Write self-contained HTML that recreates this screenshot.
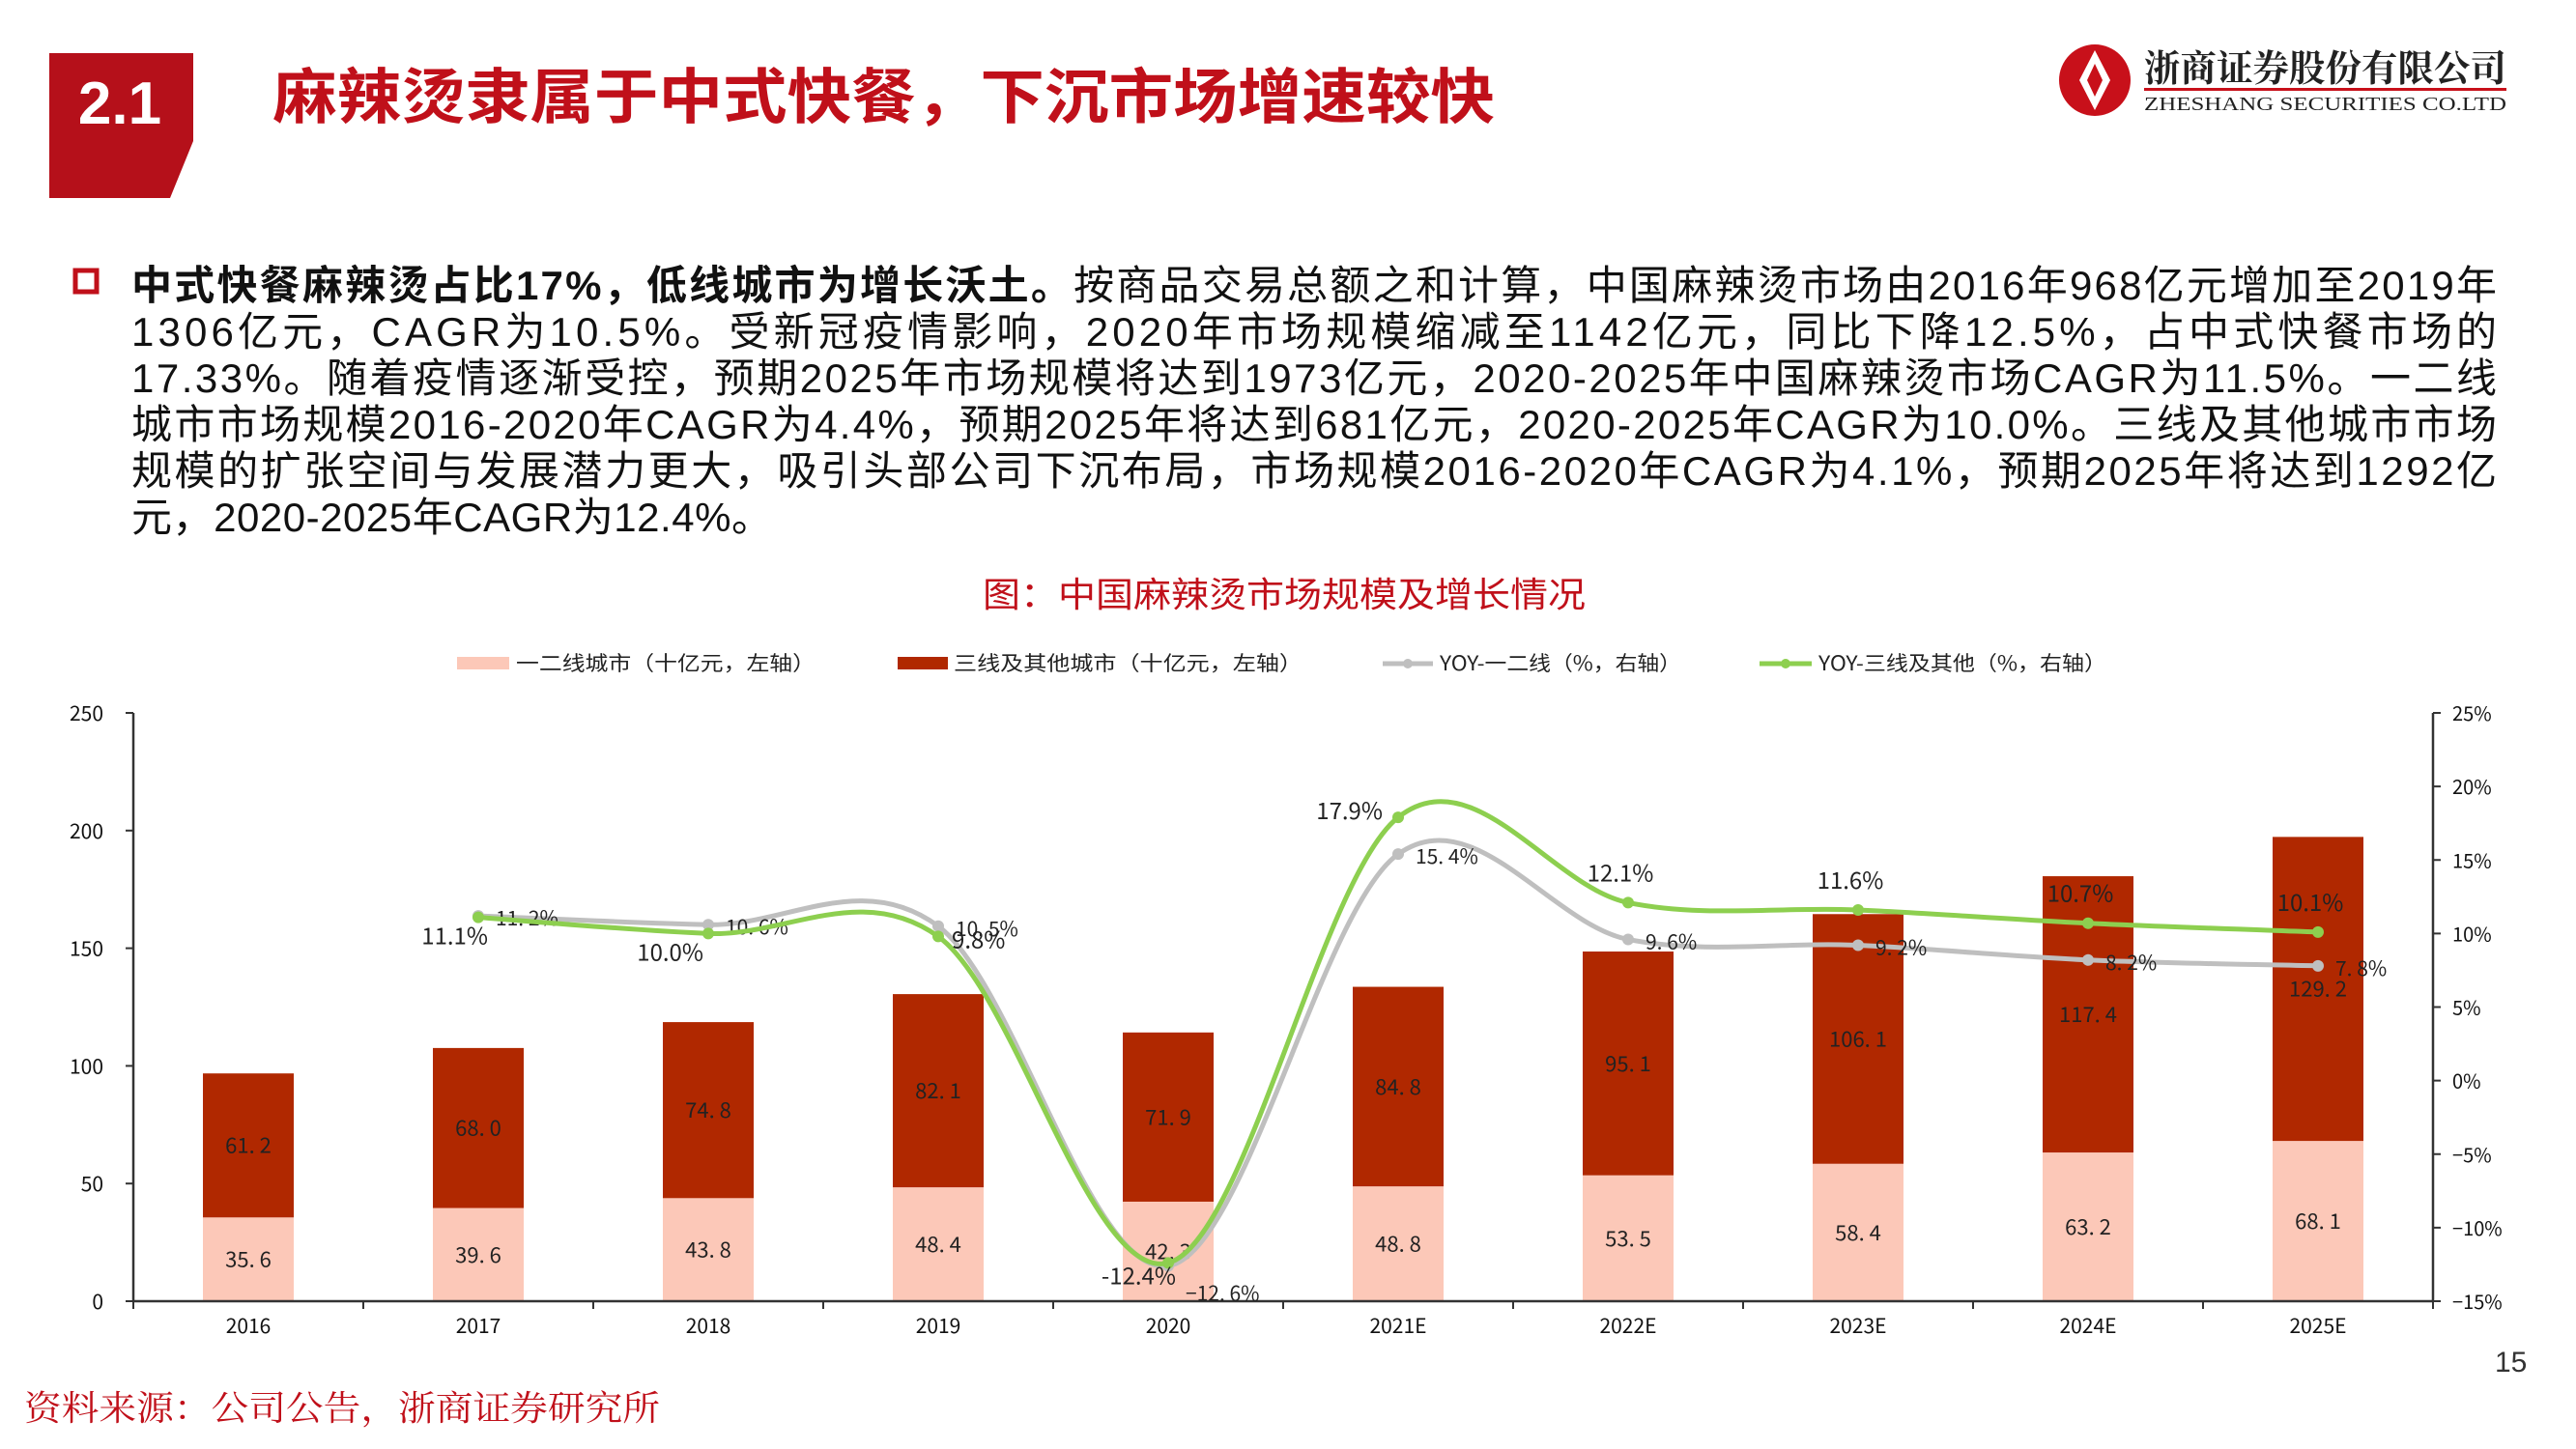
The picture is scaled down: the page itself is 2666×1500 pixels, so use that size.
<!DOCTYPE html>
<html><head><meta charset="utf-8">
<style>
html,body{margin:0;padding:0;background:#fff;}
svg{display:block;}
</style></head>
<body>
<svg id="page" width="2666" height="1500" viewBox="0 0 2666 1500" xmlns="http://www.w3.org/2000/svg">
  <rect width="2666" height="1500" fill="#fff"/>
  <g>
    <polygon points="51,55 200,55 200,146 176,205 51,205" fill="#B5101A"/>
    <text x="124" y="128" text-anchor="middle" font-family="Liberation Sans, sans-serif" font-weight="bold" font-size="62" fill="#fff">2.1</text>
  </g>
  <text x="282" y="122" font-family="Liberation Sans, 'Noto Sans CJK SC', sans-serif" font-weight="bold" font-size="62" fill="#C0101A" textLength="1265" lengthAdjust="spacingAndGlyphs">麻辣烫隶属于中式快餐，下沉市场增速较快</text>
  <g>
    <circle cx="2168" cy="83" r="37" fill="#C8101A"/>
    <path d="M2168 52 L2184 83 L2168 114 L2152 83 Z" fill="#fff"/>
    <path d="M2168 66 L2176 83 L2168 100 L2160 83 Z" fill="#C8101A"/>
    <text x="2219" y="84" font-family="'Noto Serif CJK SC', serif" font-weight="bold" font-size="38" fill="#222" textLength="375" lengthAdjust="spacingAndGlyphs">浙商证券股份有限公司</text>
    <rect x="2219" y="91" width="375" height="3" fill="#C8101A"/>
    <text x="2219" y="114" font-family="'Liberation Serif', serif" font-size="20" fill="#222" textLength="375" lengthAdjust="spacingAndGlyphs">ZHESHANG SECURITIES CO.LTD</text>
  </g>
  <rect x="78" y="280" width="22" height="22" fill="none" stroke="#C0101A" stroke-width="5"/>
  <g font-family="'Liberation Sans','Noto Sans CJK SC',sans-serif" font-size="42" fill="#111">
    <text x="136" y="310" textLength="2448" lengthAdjust="spacing"><tspan font-weight="bold">中式快餐麻辣烫占比17%，低线城市为增长沃土。</tspan>按商品交易总额之和计算，中国麻辣烫市场由2016年968亿元增加至2019年</text>
    <text x="136" y="358" textLength="2448" lengthAdjust="spacing">1306亿元，CAGR为10.5%。受新冠疫情影响，2020年市场规模缩减至1142亿元，同比下降12.5%，占中式快餐市场的</text>
    <text x="136" y="406" textLength="2448" lengthAdjust="spacing">17.33%。随着疫情逐渐受控，预期2025年市场规模将达到1973亿元，2020-2025年中国麻辣烫市场CAGR为11.5%。一二线</text>
    <text x="136" y="454" textLength="2448" lengthAdjust="spacing">城市市场规模2016-2020年CAGR为4.4%，预期2025年将达到681亿元，2020-2025年CAGR为10.0%。三线及其他城市市场</text>
    <text x="136" y="502" textLength="2448" lengthAdjust="spacing">规模的扩张空间与发展潜力更大，吸引头部公司下沉布局，市场规模2016-2020年CAGR为4.1%，预期2025年将达到1292亿</text>
    <text x="136" y="550" textLength="663" lengthAdjust="spacing">元，2020-2025年CAGR为12.4%。</text>
  </g>
  <text x="1017" y="628" font-family="'Liberation Sans','Noto Sans CJK SC',sans-serif" font-size="36" fill="#C0101A" textLength="624" lengthAdjust="spacingAndGlyphs">图：中国麻辣烫市场规模及增长情况</text>
  <g font-family="'Noto Sans CJK SC',sans-serif" font-size="21" fill="#222">
    <g>
      <rect x="473" y="680" width="54" height="13" fill="#FCC8B8"/>
      <text x="534" y="694" textLength="310" lengthAdjust="spacingAndGlyphs">一二线城市（十亿元，左轴）</text>
    </g>
    <g>
      <rect x="929" y="680" width="52" height="13" fill="#B02800"/>
      <text x="987" y="694" textLength="361" lengthAdjust="spacingAndGlyphs">三线及其他城市（十亿元，左轴）</text>
    </g>
    <g>
      <line x1="1431" y1="687" x2="1483" y2="687" stroke="#BFBFBF" stroke-width="5"/>
      <circle cx="1457" cy="687" r="5" fill="#BFBFBF"/>
      <text x="1490" y="694" textLength="250" lengthAdjust="spacingAndGlyphs">YOY-一二线（%，右轴）</text>
    </g>
    <g>
      <line x1="1821" y1="687" x2="1875" y2="687" stroke="#8DCF4F" stroke-width="5"/>
      <circle cx="1848" cy="687" r="5" fill="#8DCF4F"/>
      <text x="1882" y="694" textLength="298" lengthAdjust="spacingAndGlyphs">YOY-三线及其他（%，右轴）</text>
    </g>
  </g>
  <g id="chart"></g>
  <text x="25" y="1470" font-family="'Noto Serif CJK SC',serif" font-size="36" fill="#C0101A" textLength="658" lengthAdjust="spacingAndGlyphs">资料来源：公司公告，浙商证券研究所</text>
  <text x="2582" y="1420" font-family="Liberation Sans, sans-serif" font-size="30" fill="#333">15</text>
</svg>
<script>
const categories = ["2016","2017","2018","2019","2020","2021E","2022E","2023E","2024E","2025E"];
const tier12 = [35.6,39.6,43.8,48.4,42.3,48.8,53.5,58.4,63.2,68.1];
const tier3 = [61.2,68.0,74.8,82.1,71.9,84.8,95.1,106.1,117.4,129.2];
const yoyTier12 = [null,11.2,10.6,10.5,-12.6,15.4,9.6,9.2,8.2,7.8];
const yoyTier3 = [null,11.1,10.0,9.8,-12.4,17.9,12.1,11.6,10.7,10.1];
const leftTicks = [0,50,100,150,200,250];
const rightTicks = [-15,-10,-5,0,5,10,15,20,25];

const NS = "http://www.w3.org/2000/svg";
const g = document.getElementById("chart");
const X0 = 138, X1 = 2518, Y0 = 1347, Y1 = 738;
const slot = (X1 - X0) / categories.length;
const xc = i => X0 + slot * (i + 0.5);
const yL = v => Y0 - (v - 0) / 250 * (Y0 - Y1);
const yR = v => Y0 - (v + 15) / 40 * (Y0 - Y1);
const FONT = "'Noto Sans CJK SC','Liberation Sans',sans-serif";
function el(tag, attrs, parent) {
  const e = document.createElementNS(NS, tag);
  for (const k in attrs) e.setAttribute(k, attrs[k]);
  (parent || g).appendChild(e);
  return e;
}
function txt(x, y, s, anchor, size, fill) {
  const t = el("text", {x: x, y: y, "text-anchor": anchor, "font-family": FONT, "font-size": size, fill: fill});
  t.textContent = s;
  return t;
}
const BW = 94;
categories.forEach((c, i) => {
  const x = xc(i) - BW / 2;
  const r1 = el("rect", {x: x, y: yL(tier12[i]), width: BW, height: Y0 - yL(tier12[i]), fill: "#FCC8B8"});
  
  
  const top = tier12[i] + tier3[i];
  const r2 = el("rect", {x: x, y: yL(top), width: BW, height: yL(tier12[i]) - yL(top), fill: "#B02800"});
  
  
  const l1 = txt(xc(i), yL(tier12[i] / 2) + 8, tier12[i].toFixed(1).replace(".", ". "), "middle", 22, "#222");
  
  
  const l2 = txt(xc(i), yL(tier12[i] + tier3[i] / 2) + 8, tier3[i].toFixed(1).replace(".", ". "), "middle", 22, "#222");
  
  
  const xl = txt(xc(i), Y0 + 33, c, "middle", 21, "#111");
  
  
});
const ax = el("line", {x1: X0, y1: Y0, x2: X1, y2: Y0, stroke: "#333", "stroke-width": 2.5});


for (let i = 0; i <= categories.length; i++) el("line", {x1: X0 + slot * i, y1: Y0, x2: X0 + slot * i, y2: Y0 + 8, stroke: "#333", "stroke-width": 2});
const la = el("line", {x1: X0, y1: Y1, x2: X0, y2: Y0, stroke: "#333", "stroke-width": 2.5});


leftTicks.forEach(v => {
  el("line", {x1: X0 - 8, y1: yL(v), x2: X0, y2: yL(v), stroke: "#333", "stroke-width": 2});
  const t = txt(107, yL(v) + 8, String(v), "end", 21, "#111");
  
  
});
const ra = el("line", {x1: X1, y1: Y1, x2: X1, y2: Y0, stroke: "#333", "stroke-width": 2.5});


rightTicks.forEach(v => {
  el("line", {x1: X1, y1: yR(v), x2: X1 + 8, y2: yR(v), stroke: "#333", "stroke-width": 2});
  const t = txt(X1 + 20, yR(v) + 8, (v < 0 ? "\u2212" + (-v) : v) + "%", "start", 20, "#111");
  
  
});
function smoothPath(pts) {
  let d = "M" + pts[0][0] + "," + pts[0][1];
  for (let i = 0; i < pts.length - 1; i++) {
    const p0 = pts[i - 1] || pts[i], p1 = pts[i], p2 = pts[i + 1], p3 = pts[i + 2] || p2;
    const c1 = [p1[0] + (p2[0] - p0[0]) / 6, p1[1] + (p2[1] - p0[1]) / 6];
    const c2 = [p2[0] - (p3[0] - p1[0]) / 6, p2[1] - (p3[1] - p1[1]) / 6];
    d += " C" + c1.join(",") + " " + c2.join(",") + " " + p2.join(",");
  }
  return d;
}
function drawLine(vals, color, name, labelFn) {
  const pts = [];
  vals.forEach((v, i) => { if (v !== null) pts.push([xc(i), yR(v), v, i]); });
  const p = el("path", {d: smoothPath(pts.map(q => [q[0], q[1]])), fill: "none", stroke: color, "stroke-width": 5});
  
  
  pts.forEach(q => {
    const c = el("circle", {cx: q[0], cy: q[1], r: 6, fill: color});
    
    
    labelFn(q);
  });
}
drawLine(yoyTier12, "#BFBFBF", "yoy-tier12", q => {
  const s = q[2].toFixed(1).replace(".", ". ").replace("-", "\u2212") + "%";
  const t = txt(q[0] + 18, q[1] + (q[2] < 0 ? 36 : 10), s, "start", 21, "#222");
  
  
});
drawLine(yoyTier3, "#8DCF4F", "yoy-tier3", q => {
  const s = q[2].toFixed(1) + "%";
  const i = q[3];
  let t;
  if (i === 1) t = txt(q[0] + 10, q[1] + 28, s, "end", 24, "#222");
  else if (i === 2) t = txt(q[0] - 5, q[1] + 28, s, "end", 24, "#222");
  else if (i === 3) t = txt(q[0] + 14, q[1] + 12, s, "start", 24, "#222");
  else if (i === 4) t = txt(q[0] + 8, q[1] + 22, s, "end", 24, "#222");
  else if (i === 5) t = txt(q[0] - 16, q[1] + 2, s, "end", 24, "#222");
  else t = txt(q[0] - 8, q[1] - 22, s, "middle", 24, "#222");
  
  
});
</script>
</body></html>
